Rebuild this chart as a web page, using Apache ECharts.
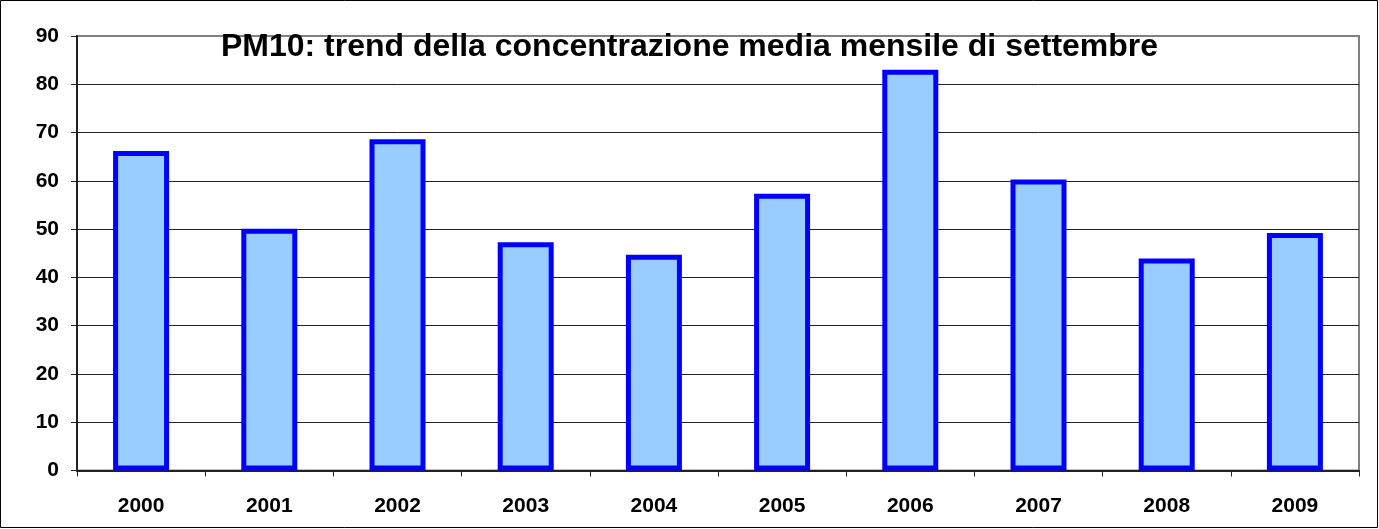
<!DOCTYPE html>
<html><head><meta charset="utf-8">
<script src="https://cdn.jsdelivr.net/npm/echarts@6/dist/echarts.min.js"></script>
<style>html,body{margin:0;padding:0;background:#fff}#c{width:1379px;height:529px}</style>
</head><body><div id="c"></div>
<script>
const titleText = 'PM10: trend della concentrazione media mensile di settembre';
const years = ['2000','2001','2002','2003','2004','2005','2006','2007','2008','2009'];
const pm10 = [66.2, 50.1, 68.6, 47.3, 44.7, 57.3, 83.0, 60.3, 43.9, 49.2];
const yMin = 0, yMax = 90, yStep = 10;

const chart = echarts.init(document.getElementById('c'), null, {renderer: 'canvas'});
const font = 'Arial, "Liberation Sans", sans-serif';
const gridColors = [];
for (let v = yMin; v <= yMax; v += yStep) gridColors.push(v === yMax ? '#808080' : '#222');
chart.setOption({
  animation: false,
  backgroundColor: '#fff',
  title: {
    text: titleText, left: 'center', top: 26,
    textStyle: {fontFamily: font, fontWeight: 'bold', fontSize: 32, color: '#000'}
  },
  graphic: [{type: 'rect', shape: {x: 0.5, y: 0.5, width: 1377, height: 527},
    style: {fill: 'none', stroke: '#000', lineWidth: 1}, silent: true, z: 100}],
  grid: {left: 77, right: 20, top: 36, bottom: 58.5, show: true, borderColor: '#808080', borderWidth: 2, backgroundColor: '#fff'},
  xAxis: {
    type: 'category', data: years,
    axisLine: {lineStyle: {color: '#222', width: 2}},
    axisTick: {show: true, length: 6, lineStyle: {color: '#222', width: 1}},
    axisLabel: {margin: 25, fontFamily: font, fontWeight: 'bold', fontSize: 21, color: '#000'}
  },
  yAxis: {
    type: 'value', min: yMin, max: yMax, interval: yStep,
    axisLine: {show: true, lineStyle: {color: '#222', width: 2}},
    axisTick: {show: true, length: 6, lineStyle: {color: '#222', width: 1}},
    splitLine: {show: true, lineStyle: {color: gridColors, width: 1}},
    axisLabel: {margin: 18, fontFamily: font, fontWeight: 'bold', fontSize: 21, color: '#000'}
  },
  series: [{
    type: 'bar', data: pm10, barWidth: 56,
    itemStyle: {color: '#99ccff', borderColor: '#0000ff', borderWidth: 5}
  }]
});
</script></body></html>
